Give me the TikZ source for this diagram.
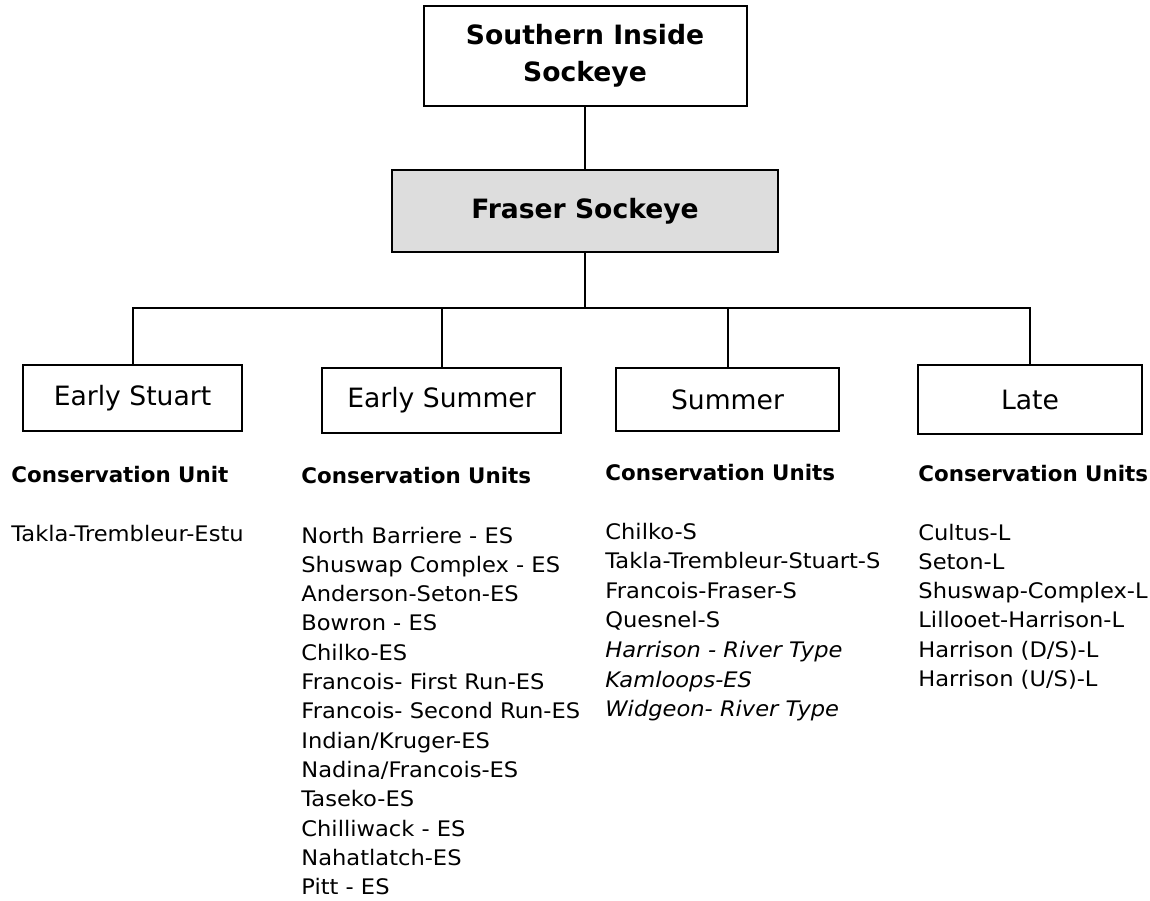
\documentclass[tikz,border=0pt]{standalone}
\usepackage{fontspec}
\setmainfont{DejaVu Sans}
\newfontfamily\listfont[FakeStretch=1.055]{DejaVu Sans}
\definecolor{fraserfill}{HTML}{DDDDDD}
\tikzset{
    groupbox/.style={draw=black, line width=1pt, inner sep=0pt, align=center, font=\fontsize{13.3}{18.5}\selectfont},
    cuhead/.style={anchor=base west, inner sep=0pt, font=\fontsize{10.7}{14.6}\selectfont\bfseries},
    cuitem/.style={anchor=base west, inner sep=0pt, font=\listfont\fontsize{10.7}{14.6}\selectfont},
    link/.style={draw=black, line width=1pt},
}

\begin{document}
\begin{tikzpicture}[x=0.5pt, y=-0.5pt]
        \useasboundingbox (0, 0) rectangle (1150, 900);

        \node[groupbox, minimum width=161.5pt, minimum height=50pt, font=\fontsize{13.3}{18.5}\selectfont\bfseries] (sis) at (585, 56) {Southern Inside\\Sockeye};
        \node[groupbox, fill=fraserfill, minimum width=193pt, minimum height=41pt, font=\fontsize{13.3}{18.5}\selectfont\bfseries] (fraser) at (585, 211) {Fraser Sockeye};

        \node[groupbox, minimum width=109.5pt, minimum height=33pt] (estu) at (132.5, 398) {Early Stuart};
        \node[groupbox, minimum width=119.5pt, minimum height=32.5pt] (esum) at (441.5, 400.5) {Early Summer};
        \node[groupbox, minimum width=111.5pt, minimum height=31.5pt] (summ) at (727.5, 399.5) {Summer};
        \node[groupbox, minimum width=112pt, minimum height=34.5pt] (late) at (1030, 399.5) {Late};

        \coordinate (bus) at (585, 308);
        \draw[link] (sis.south) -- (fraser.north);
        \draw[link] (fraser.south) -- (bus);
        \draw[link] (estu.north) |- (bus) -| (late.north);
        \draw[link] (esum.north) -- (esum.north |- bus);
        \draw[link] (summ.north) -- (summ.north |- bus);

        \node[cuhead] (estu_head) at (11, 482) {Conservation Unit};
        \node[cuitem] (estu_0) at (11, 541) {Takla-Trembleur-Estu};

        \node[cuhead] (esum_head) at (301, 483) {Conservation Units};
        \foreach \unit [count=\i from 0] in {North Barriere - ES, Shuswap Complex - ES, Anderson-Seton-ES, Bowron - ES, Chilko-ES, Francois- First Run-ES, Francois- Second Run-ES, Indian/Kruger-ES, Nadina/Francois-ES, Taseko-ES, Chilliwack - ES, Nahatlatch-ES, Pitt - ES}
            \node[cuitem] (esum_\i) at (301, 543 + 29.3*\i) {\unit};

        \node[cuhead] (summ_head) at (605, 480) {Conservation Units};
        \foreach \unit [count=\i from 0] in {Chilko-S, Takla-Trembleur-Stuart-S, Francois-Fraser-S, Quesnel-S, \textit{Harrison - River Type}, \textit{Kamloops-ES}, \textit{Widgeon- River Type}}
            \node[cuitem] (summ_\i) at (605, 539 + 29.6*\i) {\unit};

        \node[cuhead] (late_head) at (918, 481) {Conservation Units};
        \foreach \unit [count=\i from 0] in {Cultus-L, Seton-L, Shuswap-Complex-L, Lillooet-Harrison-L, Harrison (D/S)-L, Harrison (U/S)-L}
            \node[cuitem] (late_\i) at (918, 540 + 29.3*\i) {\unit};
\end{tikzpicture}
\end{document}
